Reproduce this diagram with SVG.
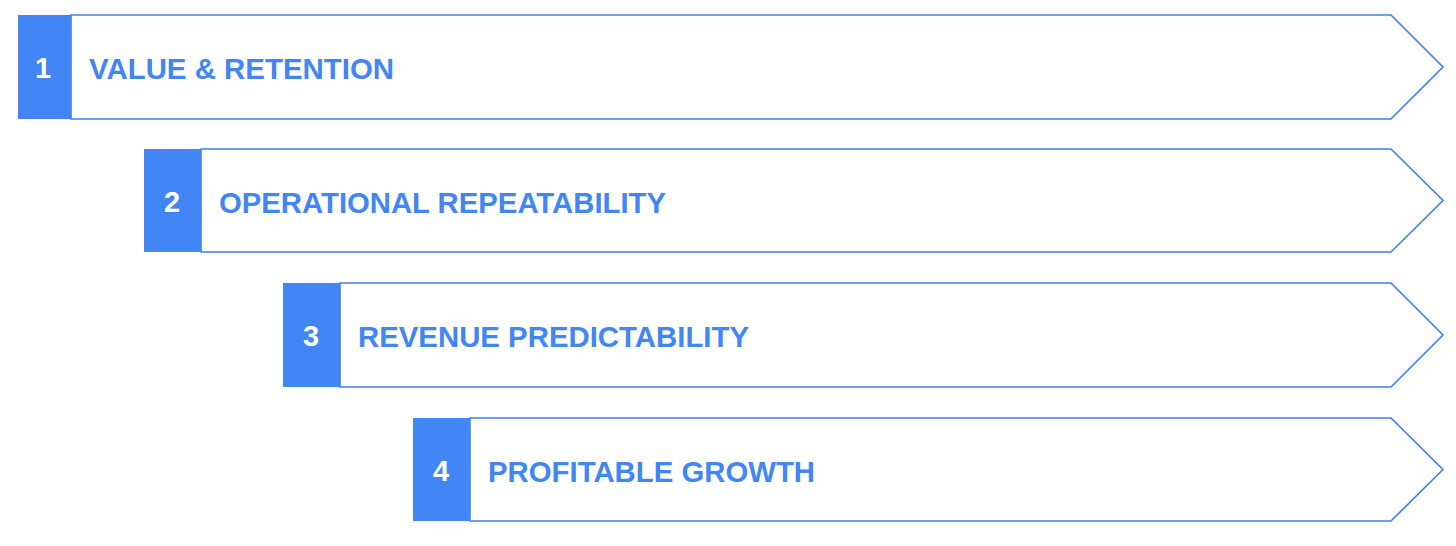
<svg xmlns="http://www.w3.org/2000/svg" width="1456" height="546" viewBox="0 0 1456 546">
<style>
.box{fill:#ffffff;stroke:#3f7fe9;stroke-width:1.6}
.tab{fill:#4285f4}
.num{font-family:"Liberation Sans",Arial,sans-serif;font-weight:bold;font-size:29px;fill:#ffffff;text-anchor:middle}
.lbl{font-family:"Liberation Sans",Arial,sans-serif;font-weight:bold;font-size:30px;fill:#4285f4}
</style>
<rect width="1456" height="546" fill="#ffffff"/>
<g id="step1">
<path class="box" d="M71,15 H1391 L1443,67 L1391,119 H71 Z"/>
<rect class="tab" x="18" y="15" width="53" height="104"/>
<text class="num" x="43" y="78">1</text>
<text class="lbl" x="89" y="79" textLength="305" lengthAdjust="spacingAndGlyphs">VALUE &amp; RETENTION</text>
</g>
<g id="step2">
<path class="box" d="M201,149 H1391 L1443,200.5 L1391,252 H201 Z"/>
<rect class="tab" x="144" y="149" width="57" height="103"/>
<text class="num" x="172" y="212">2</text>
<text class="lbl" x="219" y="213" textLength="447" lengthAdjust="spacingAndGlyphs">OPERATIONAL REPEATABILITY</text>
</g>
<g id="step3">
<path class="box" d="M340,283 H1391 L1443,335 L1391,387 H340 Z"/>
<rect class="tab" x="283" y="283" width="57" height="104"/>
<text class="num" x="311" y="346">3</text>
<text class="lbl" x="358" y="347" textLength="391" lengthAdjust="spacingAndGlyphs">REVENUE PREDICTABILITY</text>
</g>
<g id="step4">
<path class="box" d="M470,418 H1391 L1443,469.5 L1391,521 H470 Z"/>
<rect class="tab" x="413" y="418" width="57" height="103"/>
<text class="num" x="441" y="481">4</text>
<text class="lbl" x="488" y="482" textLength="327" lengthAdjust="spacingAndGlyphs">PROFITABLE GROWTH</text>
</g>
<g id="connectors"></g>
</svg>
